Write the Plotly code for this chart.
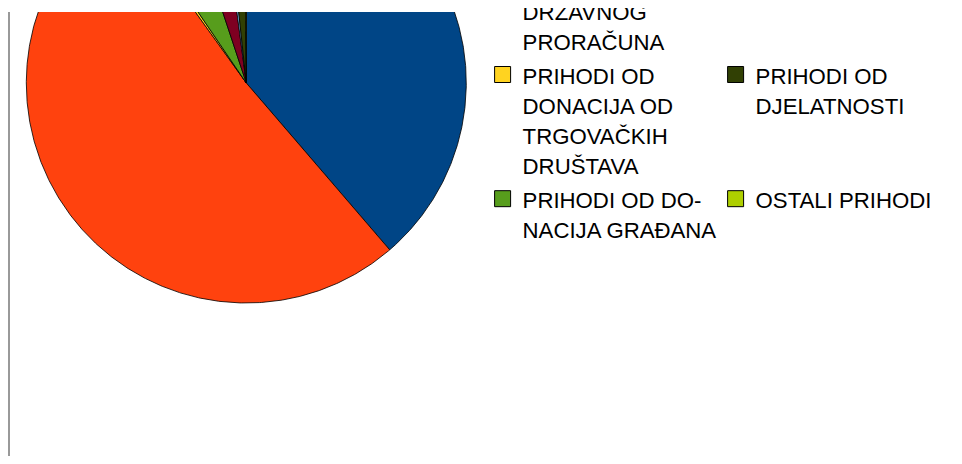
import numpy as np
import plotly.graph_objects as go

# ---- data (shares of income, %) ----
label_lines = [
    ["PRIHODI IZ", "PRORAČUNA", "JEDINICA", "LOKALNE", "SAMOUPRAVE"],
    ["PRIHODI IZ", "DRŽAVNOG", "PRORAČUNA"],
    ["PRIHODI OD", "DONACIJA OD", "TRGOVAČKIH", "DRUŠTAVA"],
    ["PRIHODI OD DO-", "NACIJA GRAĐANA"],
    ["PRIHODI OD", "INOZEMNIH", "DONACIJA"],
    ["ČLANARINE"],
    ["PRIHODI OD", "DJELATNOSTI"],
    ["OSTALI PRIHODI"],
]
values = [38.7, 51.4, 0.4, 4.4, 3.0, 0.4, 1.6, 0.1]
colors = ["#004586", "#ff420e", "#ffd320", "#579d1c",
          "#7e0021", "#83caff", "#314004", "#aecf00"]
legend_rank = [1, 3, 5, 7, 2, 4, 6, 8]   # two legend columns, filled column-wise

# ---- geometry (pixels) ----
FIG_W, FIG_H = 946, 448
M_T, M_L = 4, 0
PLOT_W = 470
PLOT_H = FIG_H - M_T
CX, CY, R = 238.3, PLOT_H - (75 - M_T), 220.0

fig = go.Figure()

total = float(sum(values))
cum = np.concatenate([[0.0], np.cumsum(values)]) / total * 360.0
for i, v in enumerate(values):
    a0, a1 = cum[i], cum[i + 1]
    n = max(2, int((a1 - a0) / 0.4) + 2)
    th = np.radians(np.linspace(a0, a1, n))
    xs = np.concatenate([[CX], CX + R * np.sin(th), [CX]])
    ys = np.concatenate([[CY], CY + R * np.cos(th), [CY]])
    fig.add_trace(go.Scatter(
        x=xs, y=ys, mode="lines", fill="toself",
        fillcolor=colors[i], line=dict(color="#000000", width=0.8),
        name=" ".join(label_lines[i]), showlegend=False,
        hoverinfo="text", text=f"{' '.join(label_lines[i])}: {v}%",
    ))

SPAN = '<span style="font-size:22.2px">{}</span>'
for i in range(len(values)):
    fig.add_trace(go.Scatter(
        x=[None], y=[None], mode="markers",
        marker=dict(symbol="square", size=16, color=colors[i],
                    line=dict(color="#000000", width=1)),
        name="<br>".join(SPAN.format(t) for t in label_lines[i]),
        legendrank=legend_rank[i], showlegend=True, hoverinfo="skip",
    ))

# legend placement
LEG_F = 23.3
LH = 1.3 * LEG_F
row_lines = [max(len(label_lines[0]), len(label_lines[4])),
             max(len(label_lines[1]), len(label_lines[5]))]
first_base_row3_page = 83.6
leg_top_page = first_base_row3_page - (0.8 * LH + 6.5) - sum(n * LH + 3 for n in row_lines)
leg_top_fig = leg_top_page - 8
leg_y = 1 - (leg_top_fig - M_T) / PLOT_H
leg_x = (474.6 - M_L) / PLOT_W

fig.update_layout(
    width=FIG_W, height=FIG_H,
    margin=dict(l=M_L, r=FIG_W - M_L - PLOT_W, t=M_T, b=0, pad=0, autoexpand=False),
    paper_bgcolor="white", plot_bgcolor="white",
    xaxis=dict(range=[0, PLOT_W], visible=False, fixedrange=True),
    yaxis=dict(range=[0, PLOT_H], visible=False, fixedrange=True),
    showlegend=True,
    legend=dict(
        orientation="h", x=leg_x, y=leg_y, xanchor="left", yanchor="top",
        entrywidth=188, entrywidthmode="pixels", valign="top",
        font=dict(family="Liberation Sans, Arial, sans-serif", size=LEG_F, color="#000000"),
        bgcolor="rgba(0,0,0,0)", borderwidth=0, maxheight=3000,
        traceorder="normal", itemclick=False, itemdoubleclick=False,
    ),
    shapes=[dict(type="line", xref="x", yref="paper", x0=1, x1=1, y0=0, y1=1,
                 line=dict(color="#999999", width=2))],
)

fig.write_html("out.html")
